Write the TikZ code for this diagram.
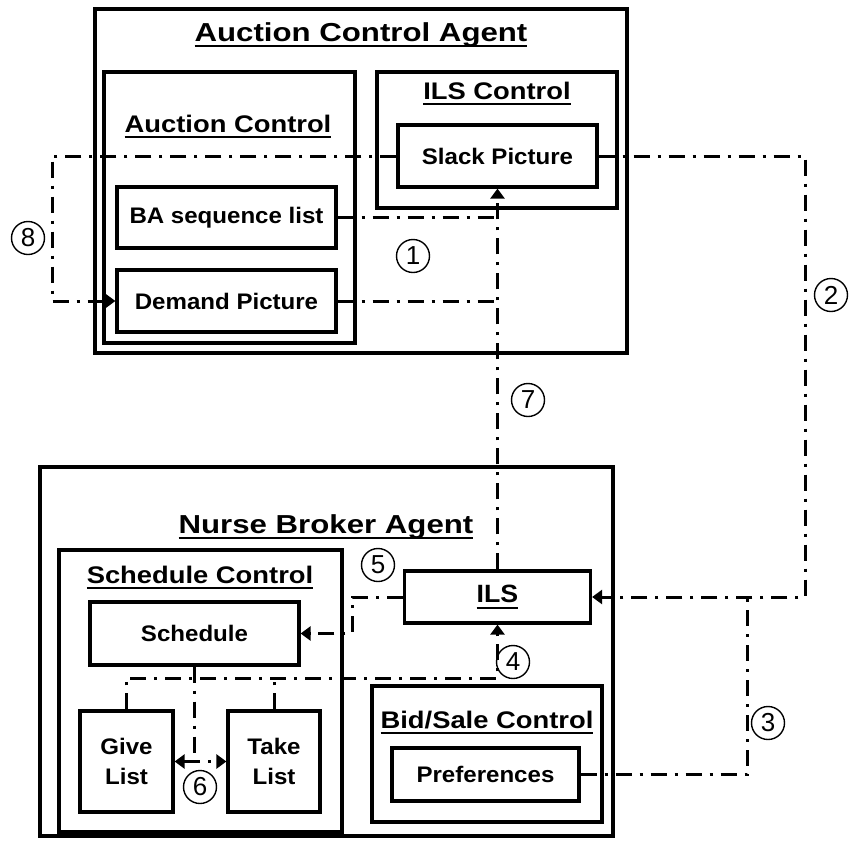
\documentclass[tikz,border=0pt]{standalone}
\usepackage{fontspec}
\setmainfont{Liberation Sans}
\newfontfamily\agentfont{Liberation Sans}[FakeStretch=1.2]
\newfontfamily\titlefont{Liberation Sans}[FakeStretch=1.14]
\newfontfamily\boxfont{Liberation Sans}[FakeStretch=1.07]
\usetikzlibrary{arrows.meta}
% underline drawn as a thick rule below the word
\newcommand\ulword[1]{\setbox0\hbox{#1}\rlap{\rule[-6pt]{\wd0}{2.2pt}}\box0}
\begin{document}
\begin{tikzpicture}[x=1pt,y=-1pt,
  frame/.style={draw, rectangle, line width=3.2pt, inner sep=0pt},
  box/.style={frame, align=center, font=\boxfont\bfseries\fontsize{22.5}{30}\selectfont},
  title/.style={anchor=base, inner sep=0pt, font=\titlefont\bfseries\fontsize{24}{28}\selectfont},
  agenttitle/.style={anchor=base, inner sep=0pt, font=\agentfont\bfseries\fontsize{26}{30}\selectfont},
  link/.style={line width=3pt, dash pattern=on 16pt off 8pt on 3pt off 8pt},
  >={Triangle[length=10pt,width=14pt]},
  num/.style={circle, draw, line width=1.4pt, minimum size=33pt, inner sep=0pt, font=\fontsize{26}{26}\selectfont}]
\useasboundingbox (0,0) rectangle (852,841);
\fill[white] (0,0) rectangle (852,841);

% ---------- Auction Control Agent ----------
\node[frame, minimum width=532pt, minimum height=344pt] (agentA) at (361,181) {};
\node[agenttitle] (agentAt) at (361,41) {\ulword{Auction Control Agent}};
\node[frame, minimum width=251pt, minimum height=271pt] (auctl) at (229.5,207.5) {};
\node[title] (auctlt) at (228,132) {\ulword{Auction Control}};
\node[frame, minimum width=240pt, minimum height=136pt] (ilsctl) at (497,140) {};
\node[title] (ilsctlt) at (497,99) {\ulword{ILS Control}};
\node[box, minimum width=199pt, minimum height=62pt] (slack) at (497.5,156) {Slack Picture};
\node[box, minimum width=219pt, minimum height=61pt] (ba) at (226.5,217.5) {BA sequence list};
\node[box, minimum width=219pt, minimum height=62pt] (demand) at (226.5,301) {Demand Picture};

% ---------- Nurse Broker Agent ----------
\node[frame, minimum width=573pt, minimum height=369pt] (agentB) at (326.5,651.5) {};
\node[agenttitle] (agentBt) at (326,533) {\ulword{Nurse Broker Agent}};
\node[frame, minimum width=283pt, minimum height=282pt] (schctl) at (200.5,691) {};
\node[title] (schctlt) at (200,583) {\ulword{Schedule Control}};
\node[box, minimum width=209pt, minimum height=63pt] (sched) at (194.5,633.5) {Schedule};
\node[box, minimum width=93pt, minimum height=101pt] (give) at (126.5,761.5) {Give\\List};
\node[box, minimum width=92pt, minimum height=101pt] (take) at (274,761.5) {Take\\List};
\node[box, minimum width=186pt, minimum height=52pt, font=\boxfont\bfseries\fontsize{25}{28}\selectfont] (ils) at (497.5,597) {\ulword{ILS}};
\node[frame, minimum width=230pt, minimum height=136pt] (bidctl) at (487,754) {};
\node[title] (bidctlt) at (487,728) {\ulword{Bid/Sale Control}};
\node[box, minimum width=187pt, minimum height=53pt] (prefs) at (485.5,774.5) {Preferences};

% turning points of the connectors
\coordinate (leftx) at (52,0);
\coordinate (rightx) at (805,0);
\coordinate (midx) at (747,0);
\coordinate (fivex) at (352,0);
\coordinate (busy) at (0,678);

% ---------- connectors ----------
\draw[link,->] (slack.west) -- (slack.west -| leftx) |- (demand.west);
\draw[link,->] (slack.east) -- (slack.east -| rightx) |- (ils.east);
\draw[link] (prefs.east) -| (midx |- ils.east);
\draw[link] (ba.east) -- (ba.east -| slack.south);
\draw[link] (demand.east) -- (demand.east -| slack.south);
\draw[link,->] (ils.north) -- (slack.south);
\draw[link,->] (ils.west) -- (ils.west -| fivex) |- (sched.east);
\draw[link,->] (give.north) |- (ils.south |- busy) -- (ils.south);
\draw[link] (take.north) -- (take.north |- busy);
\draw[link] (sched.south) -- (sched.south |- give.east);
\draw[link,<->] (give.east) -- (take.west);

% ---------- step numbers ----------
\node[num] (n1) at (413,256) {1};
\node[num] (n2) at (831,295) {2};
\node[num] (n3) at (768,723) {3};
\node[num] (n4) at (513,662) {4};
\node[num] (n5) at (378,565) {5};
\node[num] (n6) at (200,787) {6};
\node[num] (n7) at (528,400) {7};
\node[num] (n8) at (28,238) {8};
\end{tikzpicture}
\end{document}
